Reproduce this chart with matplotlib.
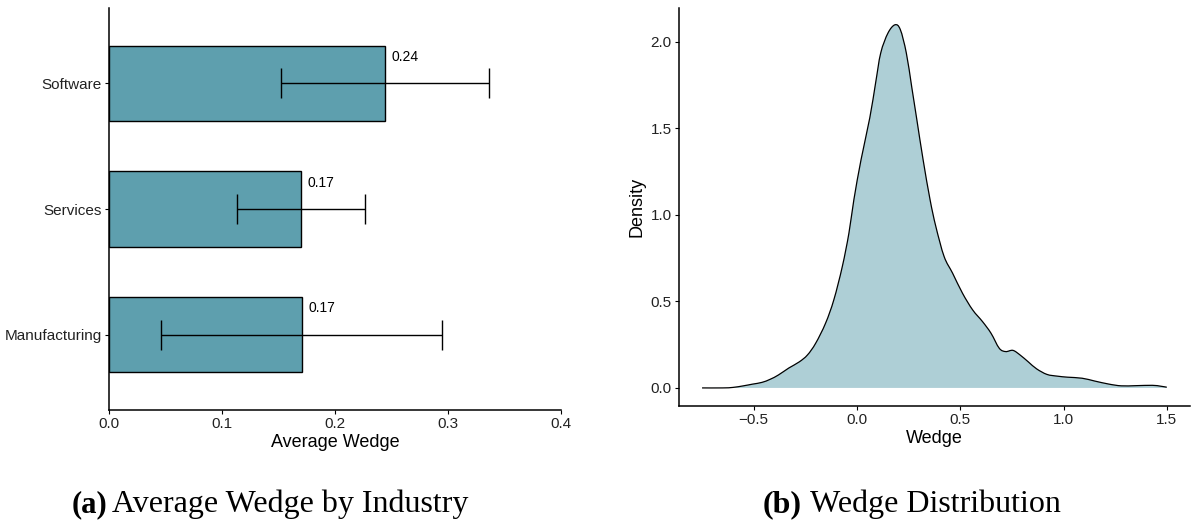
import matplotlib.pyplot as plt
import numpy as np
from matplotlib.path import Path
from matplotlib.patches import PathPatch

# %% data
industries = ["Manufacturing", "Services", "Software"]
avg_wedge = [0.171, 0.170, 0.2445]
ci_low = [0.046, 0.113, 0.152]
ci_high = [0.295, 0.227, 0.336]
bar_labels = ["0.17", "0.17", "0.24"]

wedge_x = [-0.75, -0.65, -0.6, -0.55, -0.505, -0.46, -0.42, -0.38, -0.33, -0.28,
           -0.24, -0.2, -0.152, -0.112, -0.071, -0.039, -0.015, 0.02, 0.062,
           0.09, 0.115, 0.15, 0.184, 0.21, 0.239, 0.265, 0.29, 0.32, 0.354,
           0.382, 0.422, 0.463, 0.511, 0.56, 0.608, 0.649, 0.689, 0.72, 0.755,
           0.79, 0.83, 0.87, 0.92, 0.97, 1.02, 1.09, 1.15, 1.22, 1.28, 1.35,
           1.43, 1.47, 1.5]
wedge_density = [0.0, 0.0, 0.003, 0.012, 0.022, 0.032, 0.05, 0.075, 0.115, 0.15,
                 0.19, 0.258, 0.374, 0.509, 0.701, 0.894, 1.087, 1.32, 1.56,
                 1.76, 1.935, 2.05, 2.098, 2.07, 1.935, 1.74, 1.549, 1.32, 1.087,
                 0.932, 0.759, 0.663, 0.547, 0.451, 0.383, 0.316, 0.229, 0.21, 0.217,
                 0.19, 0.15, 0.11, 0.078, 0.068, 0.062, 0.056, 0.04, 0.022, 0.012, 0.013,
                 0.015, 0.01, 0.004]

bar_color = "#5e9fae"
fill_color = "#aecfd6"
sans = "Liberation Sans"
serif = "Liberation Serif"


def smooth_path(xs, ys, close_to_zero=False):
    # Catmull-Rom through the read points, drawn as cubic Bezier segments
    pts = np.column_stack([xs, ys])
    verts = [pts[0]]
    codes = [Path.MOVETO]
    for i in range(len(pts) - 1):
        p0 = pts[max(i - 1, 0)]
        p1 = pts[i]
        p2 = pts[i + 1]
        p3 = pts[min(i + 2, len(pts) - 1)]
        verts += [p1 + (p2 - p0) / 6, p2 - (p3 - p1) / 6, p2]
        codes += [Path.CURVE4] * 3
    if close_to_zero:
        verts += [(xs[-1], 0), (xs[0], 0), pts[0]]
        codes += [Path.LINETO, Path.LINETO, Path.CLOSEPOLY]
    return Path(verts, codes)


fig = plt.figure(figsize=(11.93, 5.23), dpi=100)
ax1 = fig.add_axes([0.0914, 0.216, 0.3788, 0.7687])
ax2 = fig.add_axes([0.569, 0.2237, 0.4285, 0.761])

# %% (a) bars
ypos = np.arange(1, len(industries) + 1)
ax1.barh(ypos, avg_wedge, height=0.6, color=bar_color, edgecolor="black", linewidth=1.0)
xerr = [np.array(avg_wedge) - np.array(ci_low), np.array(ci_high) - np.array(avg_wedge)]
ax1.errorbar(avg_wedge, ypos, xerr=xerr, fmt="none", ecolor="black",
             elinewidth=1.0, capsize=10.5, capthick=1.0)
for y, v, lab in zip(ypos, avg_wedge, bar_labels):
    ax1.text(v + 0.0055, y + 0.21, lab, fontsize=10, family=sans, va="center", ha="left")
ax1.set_xlim(0, 0.4)
ax1.set_ylim(0.4, 3.6)
ax1.set_yticks(ypos)
ax1.set_yticklabels(industries)
ax1.set_xticks([0.0, 0.1, 0.2, 0.3, 0.4])
ax1.set_xticklabels(["0.0", "0.1", "0.2", "0.3", "0.4"])
ax1.set_xlabel("Average Wedge", fontsize=13, family=sans, labelpad=2)

# %% (b) density
ax2.add_patch(PathPatch(smooth_path(wedge_x, wedge_density, close_to_zero=True),
                        facecolor=fill_color, edgecolor="none"))
ax2.add_patch(PathPatch(smooth_path(wedge_x, wedge_density),
                        facecolor="none", edgecolor="black", linewidth=0.9))
ax2.set_xlim(-0.8625, 1.6125)
ax2.set_ylim(-0.1045, 2.195)
ax2.set_xticks([-0.5, 0.0, 0.5, 1.0, 1.5])
ax2.set_xticklabels(["\u22120.5", "0.0", "0.5", "1.0", "1.5"])
ax2.set_yticks([0.0, 0.5, 1.0, 1.5, 2.0])
ax2.set_yticklabels(["0.0", "0.5", "1.0", "1.5", "2.0"])
ax2.set_xlabel("Wedge", fontsize=13, family=sans, labelpad=2)
ax2.set_ylabel("Density", fontsize=13, family=sans, labelpad=4)

for ax in (ax1, ax2):
    for side in ("top", "right"):
        ax.spines[side].set_visible(False)
    for side in ("left", "bottom"):
        ax.spines[side].set_linewidth(1.1)
    ax.tick_params(length=3, width=0.8, labelsize=11, colors="black", pad=2)
    for t in ax.get_xticklabels() + ax.get_yticklabels():
        t.set_family(sans)
        t.set_color("#222222")

# %% captions
fig.text(0.060, 0.021, "(a)", fontsize=22, family=serif, weight="bold", ha="left", va="baseline")
fig.text(0.0935, 0.021, "Average Wedge by Industry", fontsize=23, family=serif,
         ha="left", va="baseline")
fig.text(0.6396, 0.021, "(b)", fontsize=23, family=serif, weight="bold", ha="left", va="baseline")
fig.text(0.679, 0.021, "Wedge Distribution", fontsize=23, family=serif,
         ha="left", va="baseline")

fig.savefig("out.png", dpi=100)
